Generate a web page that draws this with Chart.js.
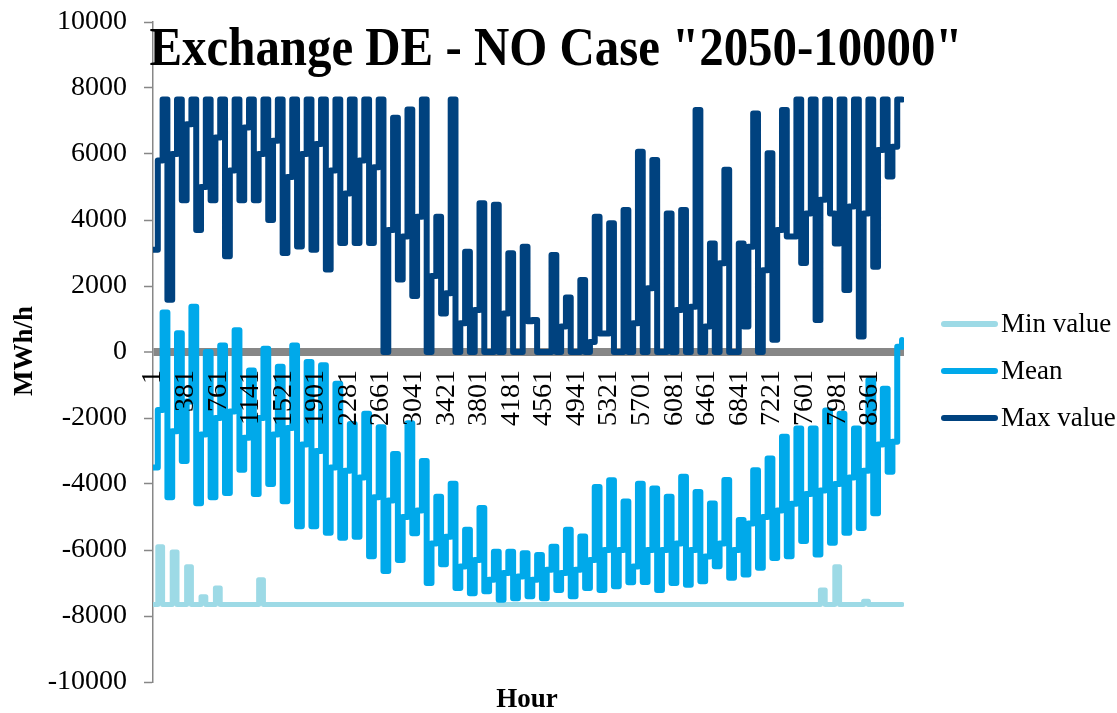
<!DOCTYPE html>
<html>
<head>
<meta charset="utf-8">
<title>Exchange DE - NO</title>
<script src="https://cdn.jsdelivr.net/npm/chart.js@4.4.1/dist/chart.umd.min.js"></script>
<style>
  html, body { margin: 0; padding: 0; background: #fff; }
  #chart { display: block; }
</style>
</head>
<body>
<canvas id="chart" width="1117" height="713"></canvas>
<script>
// Exchange DE - NO, Case "2050-10000" : min / mean / max per hour (MWh/h)

const chartTitle = 'Exchange DE - NO Case "2050-10000"';
const seriesNames = ['Min value', 'Mean', 'Max value'];

// hour at which each step starts (three steps per week) + last hour
const hours = [
  1, 57, 113,  169, 225, 281,  337, 393, 449,  505, 561, 617,
  673, 729, 785,  841, 897, 953,  1009, 1065, 1121,  1177, 1233, 1289,
  1345, 1401, 1457,  1513, 1569, 1625,  1681, 1737, 1793,  1849, 1905, 1961,
  2017, 2073, 2129,  2185, 2241, 2297,  2353, 2409, 2465,  2521, 2577, 2633,
  2689, 2745, 2801,  2857, 2913, 2969,  3025, 3081, 3137,  3193, 3249, 3305,
  3361, 3417, 3473,  3529, 3585, 3641,  3697, 3753, 3809,  3865, 3921, 3977,
  4033, 4089, 4145,  4201, 4257, 4313,  4369, 4425, 4481,  4537, 4593, 4649,
  4705, 4761, 4817,  4873, 4929, 4985,  5041, 5097, 5153,  5209, 5265, 5321,
  5377, 5433, 5489,  5545, 5601, 5657,  5713, 5769, 5825,  5881, 5937, 5993,
  6049, 6105, 6161,  6217, 6273, 6329,  6385, 6441, 6497,  6553, 6609, 6665,
  6721, 6777, 6833,  6889, 6945, 7001,  7057, 7113, 7169,  7225, 7281, 7337,
  7393, 7449, 7505,  7561, 7617, 7673,  7729, 7785, 7841,  7897, 7953, 8009,
  8065, 8121, 8177,  8233, 8289, 8345,  8401, 8457, 8513,  8569, 8625, 8681,
  8737
];

const minValues = [
  -7650, -5900, -7650,  -7650, -6060, -7650,  -7650, -6510, -7650,  -7650, -7420, -7650,
  -7650, -7150, -7650,  -7650, -7650, -7650,  -7650, -7650, -7650,  -7650, -6900, -7650,
  -7650, -7650, -7650,  -7650, -7650, -7650,  -7650, -7650, -7650,  -7650, -7650, -7650,
  -7650, -7650, -7650,  -7650, -7650, -7650,  -7650, -7650, -7650,  -7650, -7650, -7650,
  -7650, -7650, -7650,  -7650, -7650, -7650,  -7650, -7650, -7650,  -7650, -7650, -7650,
  -7650, -7650, -7650,  -7650, -7650, -7650,  -7650, -7650, -7650,  -7650, -7650, -7650,
  -7650, -7650, -7650,  -7650, -7650, -7650,  -7650, -7650, -7650,  -7650, -7650, -7650,
  -7650, -7650, -7650,  -7650, -7650, -7650,  -7650, -7650, -7650,  -7650, -7650, -7650,
  -7650, -7650, -7650,  -7650, -7650, -7650,  -7650, -7650, -7650,  -7650, -7650, -7650,
  -7650, -7650, -7650,  -7650, -7650, -7650,  -7650, -7650, -7650,  -7650, -7650, -7650,
  -7650, -7650, -7650,  -7650, -7650, -7650,  -7650, -7650, -7650,  -7650, -7650, -7650,
  -7650, -7650, -7650,  -7650, -7650, -7650,  -7650, -7210, -7650,  -7650, -6510, -7650,
  -7650, -7650, -7650,  -7650, -7550, -7650,  -7650, -7650, -7650,  -7650, -7650, -7650,
  -7650
];

const meanValues = [
  -3500, -1760, 1200,  -4400, -2400, 570,  -3300, -1500, 1370,  -4580, -2500, 0,
  -4400, -2000, 200,  -4270, -1800, 660,  -3570, -2600, -560,  -4300, -2000, 100,
  -4000, -2500, -450,  -4520, -2300, 200,  -5280, -2800, -300,  -5280, -3000, -400,
  -5480, -3500, -960,  -5630, -3600, -2180,  -5600, -3800, -1870,  -6190, -4400, -2280,
  -6640, -4500, -3090,  -6300, -5000, -2160,  -5490, -4800, -3300,  -7000, -5800, -4390,
  -6430, -5600, -3990,  -7150, -6500, -5390,  -7310, -6300, -4730,  -7250, -6900, -6050,
  -7510, -6700, -6050,  -7460, -6800, -6100,  -7400, -6900, -6150,  -7460, -6600, -5900,
  -7210, -6700, -5390,  -7400, -6600, -5590,  -7150, -6300, -4090,  -7210, -6000, -3890,
  -7100, -6000, -4530,  -6980, -6500, -3990,  -6970, -6000, -4140,  -7210, -6000, -4390,
  -7000, -5800, -3780,  -7050, -6000, -4240,  -6950, -6200, -4590,  -6490, -5800, -3880,
  -6840, -6000, -5090,  -6740, -5200, -3580,  -6540, -5000, -3230,  -6240, -4800, -2570,
  -6190, -4600, -2320,  -5730, -4300, -2320,  -6140, -4200, -1770,  -5780, -4000, -1870,
  -5480, -3800, -2320,  -5330, -3600, -850,  -4890, -2800, -1110,  -3630, -2720, 160,
  360
];

const maxValues = [
  3100, 5800, 7650,  1580, 6000, 7650,  4600, 6900, 7650,  3700, 5000, 7650,
  4600, 6500, 7650,  2900, 5500, 7650,  4600, 6800, 7650,  4600, 6000, 7650,
  4000, 6400, 7650,  3000, 5300, 7650,  3200, 6000, 7650,  3100, 6300, 7650,
  2500, 5500, 7650,  3300, 4800, 7650,  3300, 5800, 7650,  3300, 5600, 7650,
  0, 3700, 7100,  2200, 3500, 7350,  1700, 4100, 7650,  0, 2300, 4100,
  1170, 1780, 7650,  0, 870, 3040,  0, 1270, 4510,  0, 0, 4460,
  0, 1170, 2990,  0, 0, 3190,  930, 970, 0,  0, 0, 2940,
  0, 770, 1650,  0, 0, 2180,  0, 300, 4100,  560, 560, 3900,
  0, 0, 4300,  0, 870, 6070,  0, 1930, 5820,  0, 0, 4200,
  0, 1270, 4300,  0, 1370, 7330,  0, 770, 3290,  0, 2690, 5520,
  0, 0, 3290,  770, 3190, 7230,  0, 2480, 6020,  370, 3700, 7330,
  3500, 3500, 7650,  2700, 4200, 7650,  970, 4610, 7650,  4200, 3290, 7650,
  1880, 4410, 7650,  470, 4200, 7650,  2580, 6120, 7650,  5320, 6220, 7650,
  7650
];

// tick labels on the hour axis
const hourTicks = [1, 381, 761, 1141, 1521, 1901, 2281, 2661, 3041, 3421, 3801, 4181,
  4561, 4941, 5321, 5701, 6081, 6461, 6841, 7221, 7601, 7981, 8361];
const valueTicks = [-10000, -8000, -6000, -4000, -2000, 0, 2000, 4000, 6000, 8000, 10000];

const colors = ['#9DDAE6', '#00A9EA', '#00427F'];
const axisGray = '#878787';
const serif = "'Liberation Serif', 'Times New Roman', serif";

function toPoints(values) {
  return values.map((v, i) => ({ x: hours[i], y: v }));
}

// title, axis names and legend are drawn by hand to sit where the original has them
const textPlugin = {
  id: 'texts',
  afterDraw(chart) {
    const ctx = chart.ctx;
    ctx.save();
    ctx.fillStyle = '#000';

    // title (narrowed a little, the original face is condensed)
    ctx.font = 'bold 55px ' + serif;
    const tw = ctx.measureText(chartTitle).width;
    ctx.translate(556, 65);
    ctx.scale(813 / tw, 1);
    ctx.textAlign = 'center';
    ctx.textBaseline = 'alphabetic';
    ctx.fillText(chartTitle, 0, 0);
    ctx.setTransform(1, 0, 0, 1, 0, 0);

    // y axis name
    ctx.font = 'bold 27px ' + serif;
    ctx.translate(25, 351);
    ctx.rotate(-Math.PI / 2);
    ctx.textAlign = 'center';
    ctx.textBaseline = 'middle';
    ctx.fillText('MWh/h', 0, 0);
    ctx.setTransform(1, 0, 0, 1, 0, 0);

    // x axis name
    ctx.fillText('Hour', 527, 700);

    // legend
    ctx.font = '27px ' + serif;
    ctx.textAlign = 'left';
    chart.data.datasets.forEach((ds, i) => {
      const y = 324 + i * 47;
      ctx.strokeStyle = ds.borderColor;
      ctx.lineWidth = 6;
      ctx.lineCap = 'round';
      ctx.beginPath();
      ctx.moveTo(944, y);
      ctx.lineTo(995, y);
      ctx.stroke();
      ctx.fillText(ds.label, 1001, y + 1);
    });
    ctx.restore();
  }
};

const series = [minValues, meanValues, maxValues];

new Chart(document.getElementById('chart'), {
  type: 'line',
  data: {
    datasets: series.map((vals, i) => ({
      label: seriesNames[i],
      data: toPoints(vals),
      borderColor: colors[i],
      backgroundColor: colors[i],
      borderWidth: i === 0 ? 5 : 6,
      borderJoinStyle: 'round',
      borderCapStyle: 'round',
      pointRadius: 0,
      stepped: true,
      order: 2 - i
    }))
  },
  options: {
    responsive: false,
    animation: false,
    layout: { padding: { top: 22, right: 213, bottom: 31, left: 0 } },
    plugins: {
      legend: { display: false },
      title: { display: false },
      tooltip: { enabled: false }
    },
    scales: {
      x: {
        type: 'linear',
        min: 1,
        max: 8760,
        position: { y: 0 },
        afterBuildTicks: (scale) => { scale.ticks = hourTicks.map(v => ({ value: v })); },
        grid: { display: false, drawTicks: false },
        border: { display: false },
        ticks: {
          z: 1, // hour labels sit on top of the lines, as in the original
          autoSkip: false,
          minRotation: 90,
          maxRotation: 90,
          padding: 18,
          color: '#000',
          font: { family: serif, size: 28 },
          callback: (v) => String(v)
        }
      },
      y: {
        min: -10000,
        max: 10000,
        afterFit: (scale) => {
          scale.width = 153;
          scale.paddingTop = 0;
          scale.paddingBottom = 0;
        },
        afterBuildTicks: (scale) => { scale.ticks = valueTicks.map(v => ({ value: v })); },
        grid: {
          drawOnChartArea: true,
          // only the zero line is drawn inside the plot: thick and grey
          color: (c) => (c.tick && c.tick.value === 0 ? axisGray : 'rgba(0,0,0,0)'),
          lineWidth: (c) => (c.tick && c.tick.value === 0 ? 8 : 1),
          drawTicks: true,
          tickLength: 9,
          tickColor: axisGray,
          tickWidth: 1.5
        },
        border: { display: true, color: axisGray, width: 1.5 },
        ticks: {
          padding: 17,
          color: '#000',
          font: { family: serif, size: 28 },
          callback: (v) => String(v)
        }
      }
    }
  },
  plugins: [textPlugin]
});
</script>
</body>
</html>
